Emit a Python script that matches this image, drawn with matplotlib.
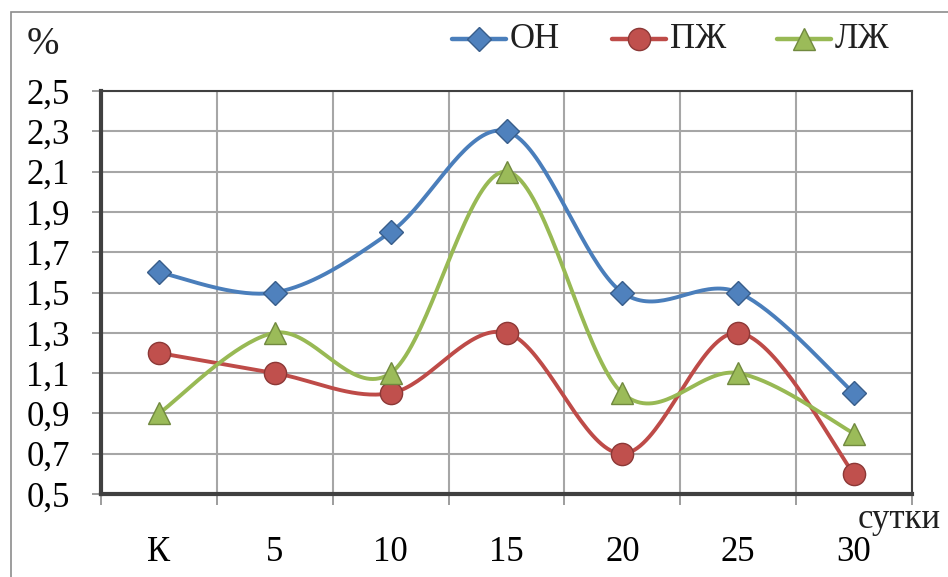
import matplotlib

matplotlib.use("Agg")

import matplotlib.pyplot as plt
import numpy as np
from matplotlib.lines import Line2D
from matplotlib.patches import Rectangle

plt.rcParams["font.family"] = ["Liberation Serif", "DejaVu Serif"]

categories = ["К", "5", "10", "15", "20", "25", "30"]
on_values = [1.6, 1.5, 1.8, 2.3, 1.5, 1.5, 1.0]
pzh_values = [1.2, 1.1, 1.0, 1.3, 0.7, 1.3, 0.6]
lzh_values = [0.9, 1.3, 1.1, 2.1, 1.0, 1.1, 0.8]
y_ticks = [0.5, 0.7, 0.9, 1.1, 1.3, 1.5, 1.7, 1.9, 2.1, 2.3, 2.5]

series = [
    ("ОН", on_values, "D", 12.5, "#4a7ebb", "#4f81bd", "#385d8a"),
    ("ПЖ", pzh_values, "o", 16, "#be4b48", "#c0504d", "#8c3836"),
    ("ЛЖ", lzh_values, "^", 16, "#98b954", "#9bbb59", "#71893f"),
]
# left edge of each legend entry, in pixels of the figure
legend_x = [452, 612, 777]


def smooth(xs, ys, n=40):
    # Catmull-Rom curve through the points, drawn as cubic Bezier pieces
    pts = np.column_stack([xs, ys]).astype(float)
    ext = np.vstack([pts[0], pts, pts[-1]])
    out = []
    t = np.linspace(0, 1, n)[:, None]
    for i in range(1, len(ext) - 2):
        p0, p1, p2, p3 = ext[i - 1], ext[i], ext[i + 1], ext[i + 2]
        c1 = p1 + (p2 - p0) / 6
        c2 = p2 - (p3 - p1) / 6
        seg = ((1 - t) ** 3) * p1 + 3 * ((1 - t) ** 2) * t * c1 + 3 * (1 - t) * t**2 * c2 + t**3 * p2
        out.append(seg if i == 1 else seg[1:])
    seg = np.vstack(out)
    return seg[:, 0], seg[:, 1]


W, H = 948, 577
fig = plt.figure(figsize=(W / 100, H / 100), dpi=100)
fig.patches.append(Rectangle((11 / W, -0.1), 1.2, 1 - 12 / H + 0.1, transform=fig.transFigure,
                             fill=False, edgecolor="#8c8c8c", linewidth=1.2))

ax = fig.add_axes([101 / W, 1 - 494 / H, (912 - 101) / W, (494 - 91) / H])
x = np.arange(len(categories))

for label, vals, marker, ms, lc, fc, ec in series:
    sx, sy = smooth(x, vals)
    ax.plot(sx, sy, color=lc, linewidth=2.8, solid_capstyle="round", zorder=3)
    ax.plot(x, vals, linestyle="none", marker=marker, markersize=ms,
            markerfacecolor=fc, markeredgecolor=ec, markeredgewidth=1.0, zorder=4)

ax.set_xlim(-0.5, len(categories) - 0.5)
ax.set_ylim(0.5, 2.5)
ax.set_yticks(y_ticks)
ax.set_yticklabels([f"{v:.1f}".replace(".", ",") for v in y_ticks], fontsize=25)
ax.set_xticks(x)
ax.set_xticklabels(categories, fontsize=25)
ax.tick_params(axis="x", length=0, pad=30)
ax.tick_params(axis="y", length=6.5, width=1.2, color="#8c8c8c", pad=16)

# gridlines between categories, with small ticks below the axis
ax.set_xticks(np.arange(-0.5, len(categories)), minor=True)
ax.tick_params(axis="x", which="minor", length=8, width=1.2, color="#8c8c8c")
ax.grid(True, which="minor", axis="x", color="#a6a6a6", linewidth=1.5, zorder=0)
ax.grid(True, which="major", axis="y", color="#a6a6a6", linewidth=1.5, zorder=0)
ax.grid(False, which="major", axis="x")

for side, w in [("left", 3.0), ("bottom", 3.0), ("top", 1.5), ("right", 1.5)]:
    ax.spines[side].set_color("#404040")
    ax.spines[side].set_linewidth(w)

fig.text(27 / W, 1 - 45 / H, "%", fontsize=28, va="center", ha="left", color="#202020")
fig.text(858 / W, 1 - 519 / H, "сутки", fontsize=25, va="center", ha="left", color="#202020")

# legend entries laid out by hand along the top
ly = 1 - 39 / H
for (label, _, marker, ms, lc, fc, ec), lx in zip(series, legend_x):
    x0, x1 = lx / W, (lx + 54) / W
    fig.add_artist(Line2D([x0, x1], [ly, ly], transform=fig.transFigure, color=lc,
                          linewidth=3.2, solid_capstyle="round"))
    fig.add_artist(Line2D([(x0 + x1) / 2], [ly], transform=fig.transFigure, marker=marker,
                          markersize=ms, markerfacecolor=fc, markeredgecolor=ec, linestyle="none"))
    fig.text((lx + 58) / W, ly, label, fontsize=25, va="center", ha="left", color="#202020")

fig.savefig("out.png", dpi=100)
